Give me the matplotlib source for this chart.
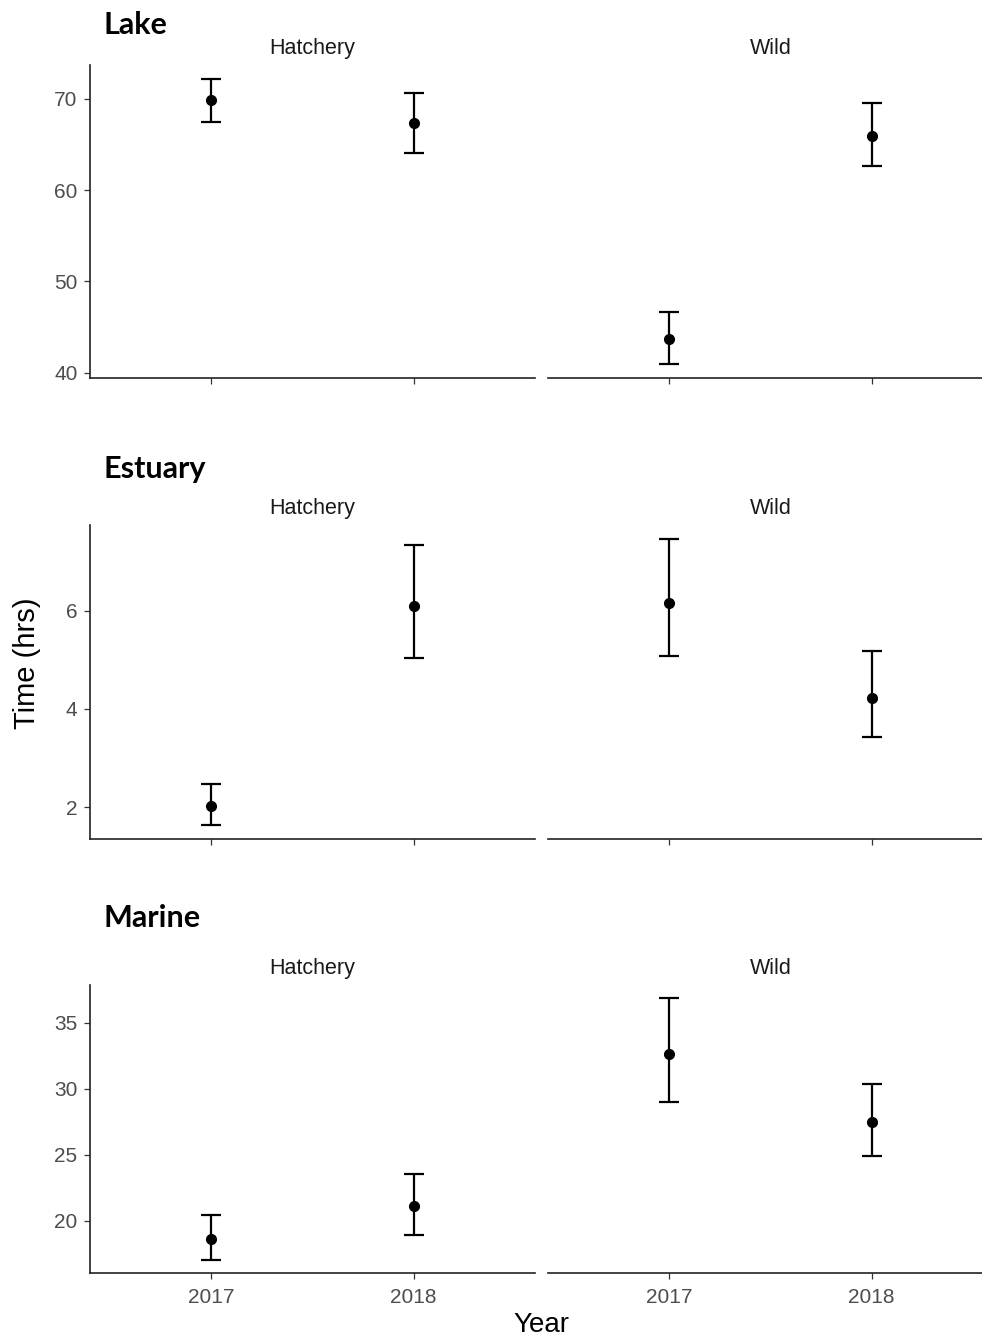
import matplotlib
matplotlib.use('Agg')
import matplotlib.pyplot as plt

# values (mean, lower, upper) per habitat / origin / year
habitats = ['Lake', 'Estuary', 'Marine']
origins = ['Hatchery', 'Wild']
years = ['2017', '2018']

lake_mean = {'Hatchery': [69.9, 67.3], 'Wild': [43.7, 65.9]}
lake_low = {'Hatchery': [67.5, 64.1], 'Wild': [40.95, 62.6]}
lake_high = {'Hatchery': [72.2, 70.6], 'Wild': [46.6, 69.5]}

est_mean = {'Hatchery': [2.03, 6.10], 'Wild': [6.17, 4.22]}
est_low = {'Hatchery': [1.63, 5.04], 'Wild': [5.08, 3.42]}
est_high = {'Hatchery': [2.47, 7.35], 'Wild': [7.46, 5.18]}

mar_mean = {'Hatchery': [18.64, 21.10], 'Wild': [32.65, 27.49]}
mar_low = {'Hatchery': [17.05, 18.94], 'Wild': [29.0, 24.92]}
mar_high = {'Hatchery': [20.45, 23.53], 'Wild': [36.86, 30.39]}

data = {
    'Lake': (lake_mean, lake_low, lake_high),
    'Estuary': (est_mean, est_low, est_high),
    'Marine': (mar_mean, mar_low, mar_high),
}
ylims = {'Lake': (39.4, 73.7), 'Estuary': (1.35, 7.75), 'Marine': (16.04, 37.85)}
yticks = {'Lake': [40, 50, 60, 70], 'Estuary': [2, 4, 6], 'Marine': [20, 25, 30, 35]}

W, H = 982, 1340
# row boxes in pixels (top, bottom) and title y
rows = {'Lake': (65, 378, 25), 'Estuary': (525, 839, 469), 'Marine': (985, 1273, 918)}
# the right facet runs a little past the image edge in the original
cols = [(90, 535), (548, 993)]

fig = plt.figure(figsize=(W / 100, H / 100), dpi=100)
plt.rcParams['font.family'] = ['Liberation Sans', 'DejaVu Sans']

def box(x0, x1, top, bottom):
    return [x0 / W, 1 - bottom / H, (x1 - x0) / W, (bottom - top) / H]

for hab in habitats:
    top, bottom, ty = rows[hab]
    mean, low, high = data[hab]
    for j, org in enumerate(origins):
        ax = fig.add_axes(box(cols[j][0], cols[j][1], top, bottom))
        xs = [1, 2]
        m = mean[org]
        yerr = [[m[i] - low[org][i] for i in range(2)],
                [high[org][i] - m[i] for i in range(2)]]
        ax.errorbar(xs, m, yerr=yerr, fmt='o', color='black', ms=7,
                    elinewidth=1.6, capsize=7, capthick=1.6)
        ax.set_xlim(0.4, 2.6)
        ax.set_ylim(*ylims[hab])
        ax.set_xticks(xs)
        for s in ['top', 'right']:
            ax.spines[s].set_visible(False)
        ax.spines['bottom'].set_linewidth(1.2)
        ax.spines['bottom'].set_color('#222222')
        ax.spines['left'].set_linewidth(1.2)
        ax.spines['left'].set_color('#222222')
        ax.tick_params(length=4, width=0.9, color='#333333',
                       labelsize=15, labelcolor='#4D4D4D', pad=5)
        ax.tick_params(axis='x', pad=7)
        if hab == 'Marine':
            ax.set_xticklabels(years)
        else:
            ax.set_xticklabels([])
        if j == 0:
            ax.set_yticks(yticks[hab])
        else:
            ax.spines['left'].set_visible(False)
            ax.set_yticks([])
        ax.set_title(org, fontsize=15.5, color='#1A1A1A', pad=8)
        ax.patch.set_alpha(0)
    fig.text(103 / W, 1 - ty / H, hab, fontsize=22, fontweight='bold',
             family=['Lato', 'DejaVu Sans'], va='center', ha='left')

fig.text(541 / W, 1 - 1325 / H, 'Year', fontsize=20, ha='center', va='center')
fig.text(27 / W, 1 - 663 / H, 'Time (hrs)', fontsize=21, rotation=90,
         ha='center', va='center')

fig.savefig('out.png', dpi=100, facecolor='white')
